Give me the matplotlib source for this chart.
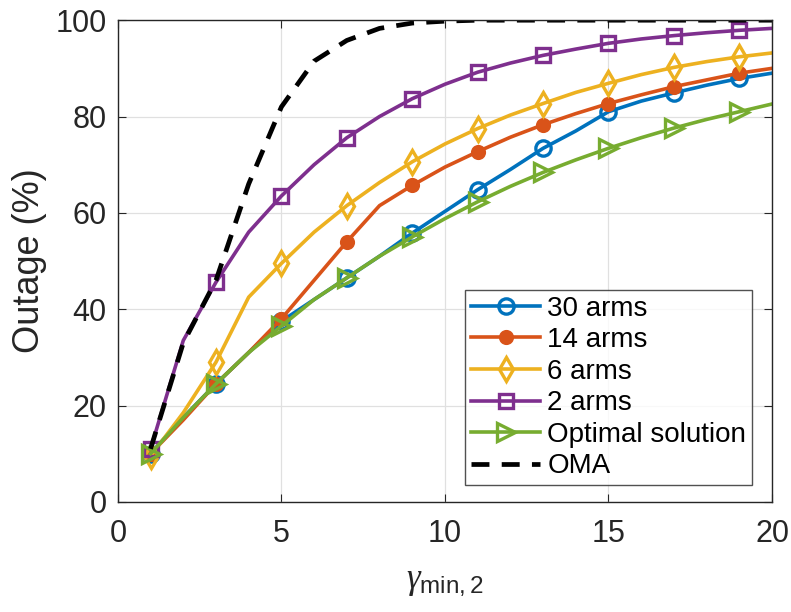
import numpy as np
import matplotlib
matplotlib.use('Agg')
from matplotlib import pyplot as plt

plt.rcParams['font.family'] = ['Liberation Sans', 'DejaVu Sans']
plt.rcParams['mathtext.fontset'] = 'custom'
plt.rcParams['mathtext.rm'] = 'Liberation Sans'
plt.rcParams['mathtext.it'] = 'Liberation Serif:italic'

x = np.arange(1, 21)

arms30 = [10, 17.5, 24.5, 31, 37.5, 42, 46.5, 51, 55.8, 60.3,
          64.8, 69, 73.4, 77, 81, 83.2, 84.9, 86.5, 87.9, 89]
arms14 = [10, 17, 24.5, 31, 38, 46, 54, 61.5, 65.7, 69.5,
          72.7, 75.7, 78.3, 80.6, 82.7, 84.5, 86.2, 87.6, 89, 90]
arms6 = [9.5, 18.5, 29, 42.5, 49.5, 56, 61.5, 66.3, 70.6, 74.3,
         77.5, 80.3, 82.7, 85, 86.9, 88.7, 90.2, 91.4, 92.4, 93.2]
arms2 = [11, 33.5, 45.6, 56, 63.5, 70, 75.6, 80, 83.7, 86.7,
         89.2, 91.1, 92.7, 94, 95.2, 96.1, 96.8, 97.4, 97.9, 98.3]
optimal = [10, 17.5, 24.5, 31, 36.5, 42, 46.5, 51, 55, 58.8,
           62.3, 65.5, 68.4, 71, 73.4, 75.6, 77.6, 79.4, 81, 82.6]
oma = [11, 33, 46, 66, 82, 91.5, 95.8, 98.3, 99.4, 99.8,
       100, 100, 100, 100, 100, 100, 100, 100, 100, 100]

labels = ['30 arms', '14 arms', '6 arms', '2 arms', 'Optimal solution']
series = [arms30, arms14, arms6, arms2, optimal]
colors = ['#0072BD', '#D95319', '#EDB120', '#7E2F8E', '#77AC30']
markers = ['o', 'o', 'd', 's', '>']
sizes = [11, 8.5, 12, 10.5, 13]

fig = plt.figure(figsize=(7.91, 6.12), dpi=100)
ax = fig.add_axes([0.149, 0.180, 0.827, 0.787])

for y, lab, c, m, ms in zip(series, labels, colors, markers, sizes):
    face = c if lab == '14 arms' else 'none'
    ax.plot(x, y, color=c, lw=2.6, marker=m, markevery=2, ms=ms,
            mfc=face, mec=c, mew=2.4, label=lab)
ax.plot(x, oma, 'k--', lw=3.4, dashes=(3.8, 2.6), label='OMA')

ax.set_xlim(0, 20)
ax.set_ylim(0, 100)
ax.set_xticks([0, 5, 10, 15, 20])
ax.set_yticks([0, 20, 40, 60, 80, 100])
ax.grid(True, color='#e0e0e0', lw=0.9)
ax.set_axisbelow(True)
ax.tick_params(direction='in', top=True, right=True, labelsize=22,
               length=6, color='#262626', labelcolor='#262626')
ax.tick_params(axis='x', pad=12)
ax.tick_params(axis='y', pad=8)
for s in ax.spines.values():
    s.set_color('#262626')
    s.set_linewidth(1.0)

ax.set_xlabel(r'$\gamma_{\rm min,2}$', fontsize=25, color='#262626', labelpad=12)
ax.set_ylabel('Outage (%)', fontsize=26, color='#262626', labelpad=6)

leg = ax.legend(loc='lower right', fontsize=20, frameon=True, fancybox=False,
                edgecolor='#262626', handlelength=2.5, handletextpad=0.25,
                labelspacing=0.2, borderpad=0.2, borderaxespad=0,
                bbox_to_anchor=(0.969, 0.035))
leg.get_frame().set_linewidth(1.0)

fig.savefig('out.png', dpi=100)
